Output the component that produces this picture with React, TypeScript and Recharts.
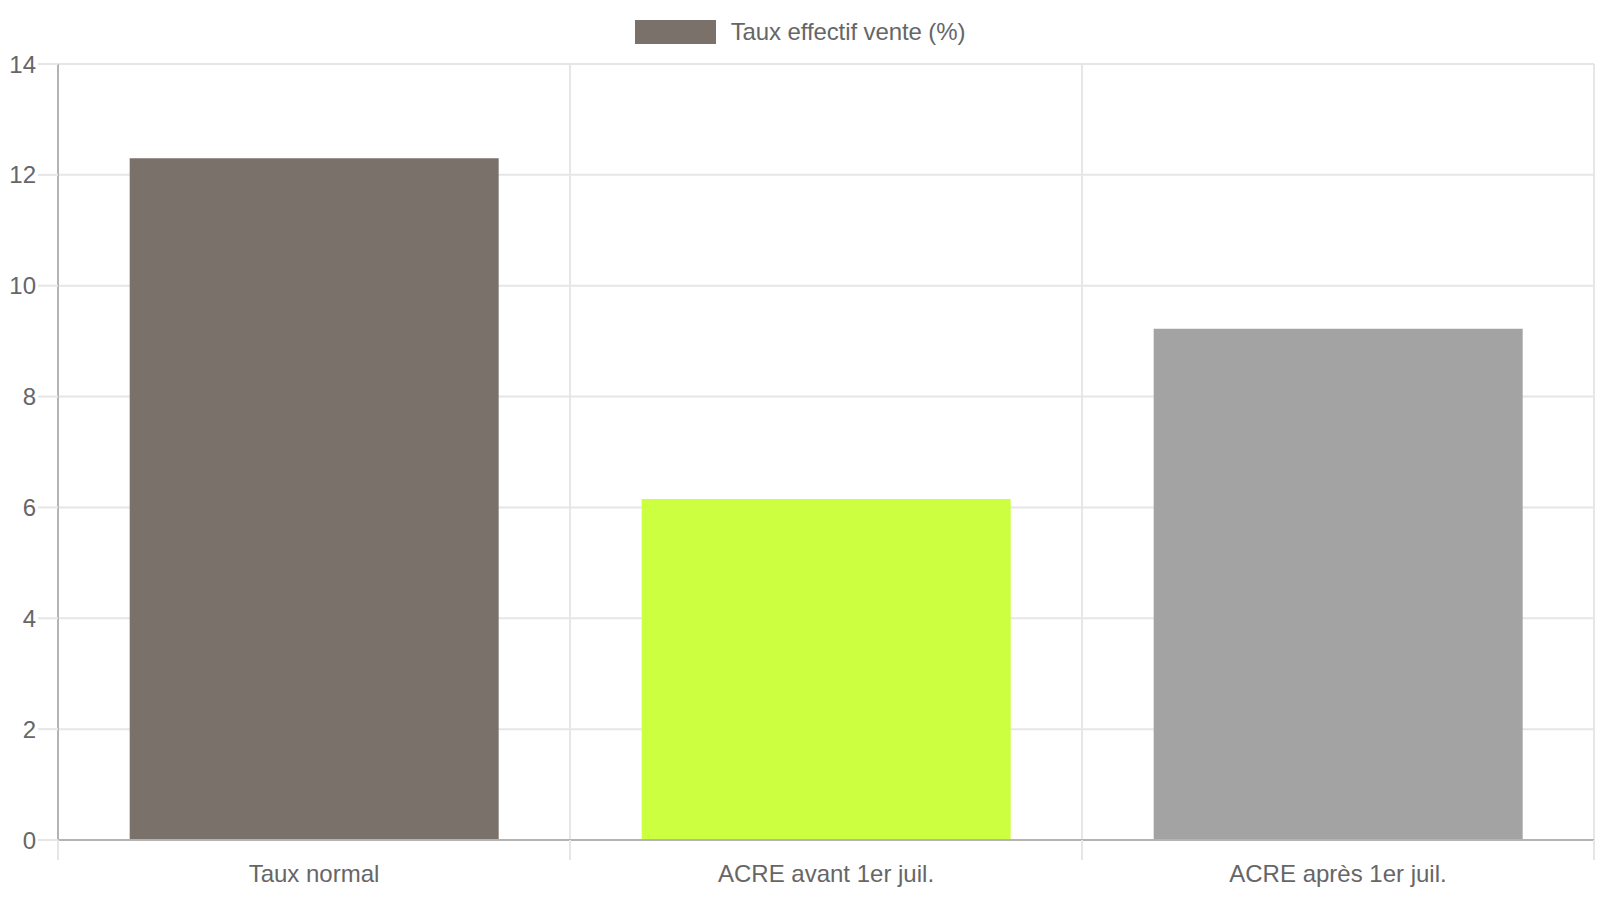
import React from 'react';
import { BarChart, Bar, XAxis, YAxis, CartesianGrid, Cell } from 'recharts';

// chart data
const categories = ['Taux normal', 'ACRE avant 1er juil.', 'ACRE après 1er juil.'];
const tauxVente = [12.3, 6.15, 9.225];
const barColors = ['#7a716b', '#ccff3f', '#a3a3a3'];
const yTicks = [0, 2, 4, 6, 8, 10, 12, 14];
const seriesName = 'Taux effectif vente (%)';

const data = categories.map((name, i) => ({ name, value: tauxVente[i] }));

const W = 1600;
const H = 900;
const MARGIN = { top: 64, right: 6, bottom: 0, left: 0 };
const Y_AXIS_W = 58;
const X_AXIS_H = 60;
const TEXT = '#666666';
const GRID = '#e6e6e6';
const AXIS = '#b3b3b3';
const FONT = '"Liberation Sans", Arial, Helvetica, sans-serif';

const plotW = W - MARGIN.left - MARGIN.right - Y_AXIS_W;
const bandW = plotW / categories.length;

const XTick = (props: any) => {
  const { x, y, payload, index } = props;
  const half = bandW / 2;
  return (
    <g>
      <line x1={x - half} x2={x - half} y1={y - 20} y2={y} stroke={GRID} strokeWidth={2} />
      {index === categories.length - 1 && (
        <line x1={x + half} x2={x + half} y1={y - 20} y2={y} stroke={GRID} strokeWidth={2} />
      )}
      <text x={x} y={y + 22} textAnchor="middle" fill={TEXT} fontSize={24} fontFamily={FONT}>
        {payload.value}
      </text>
    </g>
  );
};

export default function App() {
  return (
    <div style={{ position: 'absolute', left: 0, top: 0, width: W, height: H, background: '#fff', fontFamily: FONT }}>
      {/* legend */}
      <div
        style={{
          position: 'absolute',
          top: 20,
          left: 0,
          width: W,
          display: 'flex',
          justifyContent: 'center',
          alignItems: 'center',
          height: 24,
        }}
      >
        <div style={{ width: 81, height: 24, background: barColors[0], marginRight: 15 }} />
        <span style={{ fontSize: 24, color: TEXT, lineHeight: '24px', letterSpacing: '-0.1px' }}>{seriesName}</span>
      </div>
      <BarChart width={W} height={H} data={data} margin={MARGIN} barCategoryGap="14%">
        <CartesianGrid
          stroke={GRID}
          strokeWidth={2}
          verticalCoordinatesGenerator={({ offset }: any) =>
            Array.from({ length: categories.length + 1 }, (_, i) => offset.left + (i * offset.width) / categories.length)
          }
        />
        <XAxis
          dataKey="name"
          height={X_AXIS_H}
          axisLine={{ stroke: AXIS, strokeWidth: 2 }}
          tickLine={false}
          tickSize={20}
          tickMargin={0}
          interval={0}
          tick={<XTick />}
        />
        <YAxis
          width={Y_AXIS_W}
          domain={[0, 14]}
          ticks={yTicks}
          interval={0}
          axisLine={{ stroke: AXIS, strokeWidth: 2 }}
          tickLine={{ stroke: GRID, strokeWidth: 2 }}
          tickSize={20}
          tickMargin={2}
          tick={{ fill: TEXT, fontSize: 24, fontFamily: FONT }}
        />
        <Bar dataKey="value" name={seriesName} isAnimationActive={false}>
          {data.map((_, i) => (
            <Cell key={`cell-${i}`} fill={barColors[i]} />
          ))}
        </Bar>
      </BarChart>
    </div>
  );
}
